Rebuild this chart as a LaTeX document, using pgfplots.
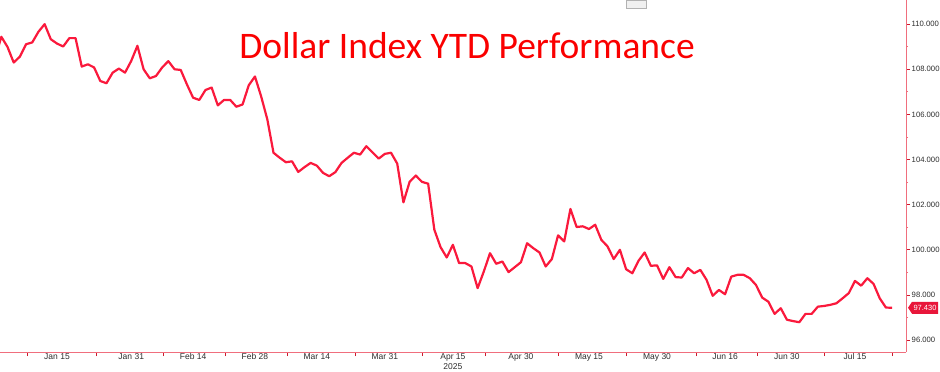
\documentclass[border=0pt]{standalone}
\usepackage{pgfplots}
\pgfplotsset{compat=1.18}
\usepackage{pgfplotstable}
\usepackage{fontspec}
\setmainfont{Liberation Sans}
\newfontfamily\titlefont{Carlito}
\definecolor{lineRed}{RGB}{250,25,60}
\definecolor{axisPink}{RGB}{240,110,125}
\definecolor{tickRed}{RGB}{205,25,45}
\definecolor{labelGrey}{RGB}{45,45,45}
\definecolor{boxRed}{RGB}{232,22,58}
\definecolor{titleRed}{RGB}{250,0,0}

\pgfplotstableread{
idx val
0 108.49
1 109.44
2 108.99
3 108.30
4 108.56
5 109.11
6 109.19
7 109.66
8 110.00
9 109.33
10 109.14
11 109.01
12 109.38
13 109.38
14 108.12
15 108.22
16 108.08
17 107.48
18 107.38
19 107.85
20 108.03
21 107.85
22 108.37
23 109.04
24 108.00
25 107.60
26 107.70
27 108.08
28 108.36
29 108.00
30 107.97
31 107.33
32 106.74
33 106.64
34 107.08
35 107.19
36 106.40
37 106.64
38 106.64
39 106.34
40 106.44
41 107.29
42 107.68
43 106.80
44 105.78
45 104.30
46 104.08
47 103.88
48 103.92
49 103.45
50 103.66
51 103.85
52 103.73
53 103.41
54 103.26
55 103.44
56 103.85
57 104.08
58 104.30
59 104.22
60 104.59
61 104.32
62 104.04
63 104.25
64 104.30
65 103.82
66 102.10
67 103.01
68 103.29
69 103.01
70 102.93
71 100.89
72 100.12
73 99.66
74 100.22
75 99.41
76 99.41
77 99.26
78 98.30
79 99.04
80 99.85
81 99.38
82 99.48
83 99.01
84 99.23
85 99.45
86 100.29
87 100.07
88 99.88
89 99.26
90 99.59
91 100.64
92 100.37
93 101.81
94 101.01
95 101.04
96 100.92
97 101.11
98 100.44
99 100.15
100 99.59
101 100.00
102 99.14
103 98.96
104 99.51
105 99.88
106 99.29
107 99.31
108 98.71
109 99.23
110 98.79
111 98.77
112 99.19
113 98.96
114 99.11
115 98.67
116 97.96
117 98.22
118 98.03
119 98.81
120 98.89
121 98.89
122 98.74
123 98.44
124 97.88
125 97.70
126 97.16
127 97.41
128 96.90
129 96.84
130 96.79
131 97.16
132 97.16
133 97.48
134 97.51
135 97.56
136 97.63
137 97.85
138 98.08
139 98.62
140 98.41
141 98.74
142 98.49
143 97.85
144 97.44
145 97.43
}\dxy

\begin{document}
\begin{tikzpicture}[x=1bp,y=1bp]
\useasboundingbox (0,-19) rectangle (940,352);
\begin{axis}[
  at={(0,0)}, anchor=south west,
  scale only axis, width=906bp, height=352bp,
  xmin=0.786, xmax=147.25, ymin=95.47, ymax=111.07,
  axis x line*=bottom, axis y line*=right,
  axis line style={-, draw=axisPink, line width=1bp},
  ytick={96,98,...,110}, minor y tick num=1,
  xtick={5.2,16.3,27.2,37.3,47.2,58.2,69.1,79.2,91,102.1,113.3,123.2,134,145.1},
  xticklabels={},
  extra x ticks={10,22,32,42,52,63,74,85,96,107,118,128,139},
  extra x tick labels={Jan 15,Jan 31,Feb 14,Feb 28,Mar 14,Mar 31,{Apr 15\\2025},Apr 30,May 15,May 30,Jun 16,Jun 30,Jul 15},
  extra x tick style={major tick length=0pt},
  tick align=outside,
  major tick length=4bp, minor tick length=2bp,
  tick style={tickRed, line width=0.8bp},
  minor tick style={axisPink, line width=0.7bp},
  /pgf/number format/assume math mode=true,
  yticklabel style={/pgf/number format/fixed, /pgf/number format/fixed zerofill, /pgf/number format/precision=3, /pgf/number format/1000 sep={}},
  y tick label style={anchor=west, inner sep=0pt, xshift=1.5bp, text=labelGrey, font=\fontsize{7.7bp}{9bp}\selectfont},
  x tick label style={anchor=north, inner sep=0pt, yshift=-1.5bp, align=center, text=labelGrey, font=\fontsize{8.5bp}{10bp}\selectfont},
  clip=true,
]
\addplot[lineRed, line width=2.2bp, line join=round, no markers] table[x=idx, y=val] {\dxy};
\coordinate (cv) at ({rel axis cs:1,0} |- {axis cs:100,97.43});
\node[anchor=base, text=titleRed, font=\titlefont\fontsize{37.5bp}{40bp}\selectfont] at (rel axis cs:0.5155,0.8324) {Dollar Index YTD Performance};
\end{axis}
\fill[boxRed] ([xshift=2bp]cv) -- ++(4bp,6bp) -- ++(26bp,0) -- ++(0,-12bp) -- ++(-26bp,0) -- cycle;
\node[text=white, inner sep=0pt, font=\fontsize{7.5bp}{9bp}\selectfont] at ([xshift=19bp]cv) {97.430};
\draw[gray!60, fill=gray!12, line width=0.6bp] (626,352) rectangle (646,344);
\end{tikzpicture}
\end{document}
